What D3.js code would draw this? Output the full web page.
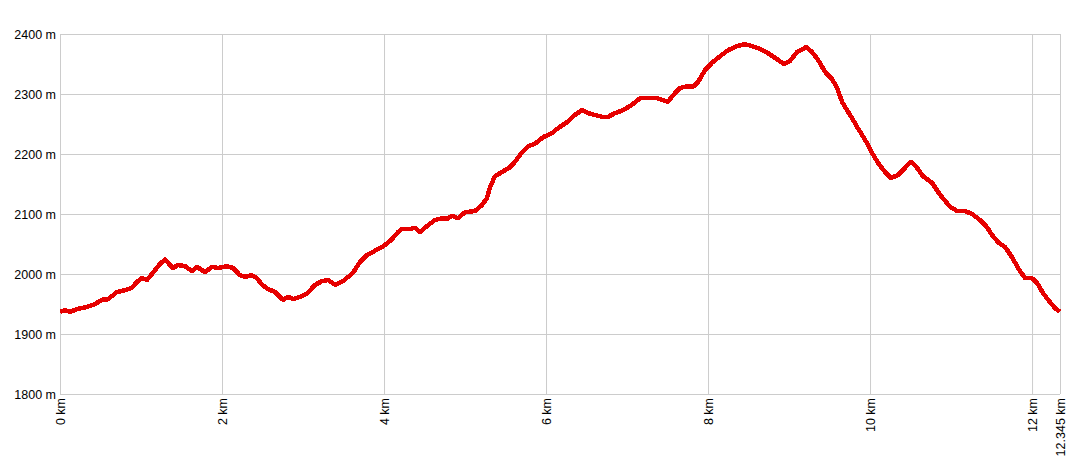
<!DOCTYPE html>
<html>
<head>
<meta charset="utf-8">
<script src="https://d3js.org/d3.v7.min.js"></script>
<style>
  body { margin: 0; background: #fff; }
  .axis text { font-family: "Liberation Sans", Arial, sans-serif; font-size: 12.5px; fill: #000; }
  .axis line { stroke: #cccccc; }
  .axis path { display: none; }
</style>
</head>
<body>
<svg id="chart" width="1084" height="463"></svg>
<script>
// distance along the route (km) and elevation (m)
var distances = [0, 0.062, 0.123, 0.222, 0.333, 0.432, 0.519, 0.593, 0.704, 0.802, 0.889, 0.951,
    1.012, 1.074, 1.148, 1.235, 1.296, 1.395, 1.457, 1.543, 1.630, 1.691, 1.790, 1.877, 1.951,
    2.062, 2.136, 2.222, 2.284, 2.358, 2.432, 2.494, 2.568, 2.654, 2.753, 2.815, 2.877, 2.963,
    3.049, 3.148, 3.235, 3.309, 3.395, 3.481, 3.556, 3.617, 3.704, 3.790, 3.864, 3.975,
    4.049, 4.111, 4.173, 4.222, 4.321, 4.383, 4.444, 4.531, 4.630, 4.716, 4.778, 4.840, 4.914,
    5.000, 5.123, 5.210, 5.272, 5.309, 5.370, 5.457, 5.556, 5.617, 5.704, 5.778, 5.864, 5.963,
    6.074, 6.148, 6.259, 6.333, 6.444, 6.519, 6.605, 6.691, 6.765, 6.852, 6.951,
    7.062, 7.160, 7.259, 7.370, 7.444, 7.506, 7.568, 7.654, 7.741, 7.815, 7.877, 7.963,
    8.049, 8.148, 8.247, 8.358, 8.457, 8.543, 8.642, 8.741, 8.852, 8.938,
    9.012, 9.099, 9.210, 9.284, 9.358, 9.444, 9.531, 9.593, 9.654, 9.716, 9.778, 9.840, 9.901, 9.963,
    10.025, 10.099, 10.185, 10.259, 10.346, 10.432, 10.506, 10.580, 10.654, 10.765, 10.864, 10.988,
    11.074, 11.173, 11.259, 11.358, 11.444, 11.506, 11.580, 11.667, 11.753, 11.827, 11.914,
    12.000, 12.062, 12.136, 12.222, 12.284, 12.345];

var elevations = [1937, 1940, 1937, 1942, 1945, 1950, 1957, 1958, 1970, 1973, 1977, 1987,
    1993, 1990, 2002, 2017, 2024, 2010, 2015, 2013, 2005, 2012, 2003, 2012, 2010,
    2013, 2010, 1998, 1995, 1998, 1993, 1982, 1975, 1970, 1957, 1962, 1958, 1962,
    1967, 1982, 1988, 1990, 1982, 1987, 1995, 2002, 2020, 2032, 2037, 2045,
    2052, 2060, 2070, 2075, 2075, 2077, 2070, 2080, 2090, 2093, 2092, 2097, 2093,
    2103, 2105, 2115, 2127, 2145, 2163, 2170, 2178, 2187, 2203, 2213, 2217, 2228,
    2235, 2243, 2253, 2263, 2273, 2268, 2265, 2262, 2262, 2268, 2273,
    2282, 2293, 2293, 2293, 2290, 2287, 2298, 2310, 2313, 2312, 2320, 2340,
    2352, 2363, 2373, 2380, 2383, 2380, 2375, 2368, 2358, 2350,
    2355, 2370, 2378, 2370, 2357, 2337, 2325, 2310, 2287, 2273, 2260, 2245, 2232, 2218,
    2202, 2185, 2170, 2160, 2165, 2177, 2187, 2177, 2163, 2152, 2132, 2112,
    2105, 2105, 2100, 2090, 2078, 2065, 2053, 2045, 2028, 2010, 1993,
    1993, 1985, 1968, 1953, 1943, 1937];

var xTicks = [0, 2, 4, 6, 8, 10, 12, 12.345];
var yTicks = [1800, 1900, 2000, 2100, 2200, 2300, 2400];

var svg = d3.select("#chart"),
    margin = { top: 34, right: 24, bottom: 69, left: 60 },
    width = 1084 - margin.left - margin.right,
    height = 463 - margin.top - margin.bottom;

var g = svg.append("g")
    .attr("transform", "translate(" + margin.left + "," + margin.top + ")");

var x = d3.scaleLinear().domain([0, 12.345]).range([0, width]),
    y = d3.scaleLinear().domain([1800, 2400]).range([height, 0]);

// horizontal grid + labels
g.append("g")
    .attr("class", "axis axis--y")
    .call(d3.axisLeft(y).tickValues(yTicks).tickSize(-width).tickPadding(4)
        .tickFormat(function(d) { return d + " m"; }));

// vertical grid + rotated labels
g.append("g")
    .attr("class", "axis axis--x")
    .attr("transform", "translate(0," + height + ")")
    .call(d3.axisBottom(x).tickValues(xTicks).tickSize(-height)
        .tickFormat(function(d) { return d + " km"; }))
    .selectAll("text")
    .attr("transform", "rotate(-90)")
    .attr("text-anchor", "end")
    .attr("x", -4)
    .attr("y", 0)
    .attr("dy", "0.35em");

var pts = distances.map(function(d, i) { return [d, elevations[i]]; });

var line = d3.line()
    .x(function(d) { return x(d[0]); })
    .y(function(d) { return y(d[1]); });

g.append("path")
    .datum(pts)
    .attr("fill", "none")
    .attr("stroke", "#e60000")
    .attr("stroke-width", 4.5)
    .attr("stroke-linejoin", "round")
    .attr("shape-rendering", "crispEdges")
    .attr("d", line);
</script>
</body>
</html>
